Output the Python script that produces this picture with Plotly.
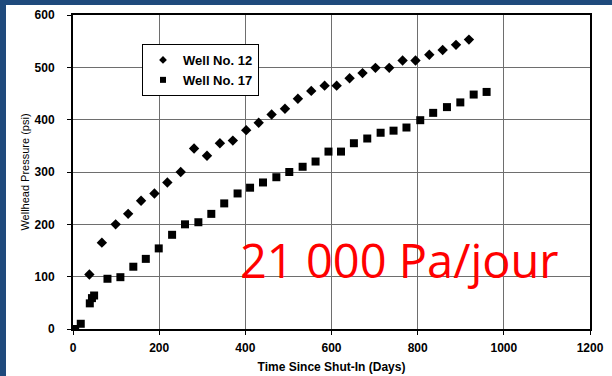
import plotly.graph_objects as go

# Well No. 12 (diamonds)
well12_days = [38, 67, 99, 128, 158, 189, 219, 250, 281, 311, 341, 371, 402, 431, 461, 492, 522, 553,
               584, 612, 642, 672, 702, 734, 765, 795, 827, 858, 889, 919]
well12_psi = [104, 165, 200, 220, 245, 259, 280, 300, 345, 331, 355, 360, 380, 394, 410, 421, 440, 455,
              465, 465, 479, 489, 499, 499, 513, 513, 524, 533, 543, 553]

# Well No. 17 (squares)
well17_days = [5, 18, 39, 44, 49, 80, 110, 140, 169, 199, 230, 260, 291, 321, 351, 382, 411, 441,
               472, 502, 533, 563, 593, 622, 652, 683, 714, 744, 774, 806, 836, 868, 899, 930, 960]
well17_psi = [0, 10, 49, 59, 64, 96, 99, 119, 134, 154, 180, 200, 204, 220, 240, 259, 270, 280,
              290, 300, 310, 320, 339, 339, 355, 364, 375, 379, 385, 399, 413, 424, 433, 448, 453]

x_ticks = [0, 200, 400, 600, 800, 1000, 1200]
y_ticks = [0, 100, 200, 300, 400, 500, 600]

W, H = 612, 376
L, R, T, B = 73, 22, 15, 47
pw, ph = W - L - R, H - T - B

def px_x(p):
    return (p - L) / pw

def px_y(p):
    return (H - B - p) / ph

fig = go.Figure()
fig.add_trace(go.Scatter(
    x=well12_days, y=well12_psi, mode="markers", name="Well No. 12", showlegend=False,
    marker=dict(symbol="diamond", size=8, color="black"),
))
fig.add_trace(go.Scatter(
    x=well17_days, y=well17_psi, mode="markers", name="Well No. 17", showlegend=False,
    marker=dict(symbol="square", size=8, color="black"),
))
# legend entries (smaller symbols, as in the reference legend)
fig.add_trace(go.Scatter(
    x=[None], y=[None], mode="markers", name="Well No. 12",
    marker=dict(symbol="diamond", size=6, color="black"),
))
fig.add_trace(go.Scatter(
    x=[None], y=[None], mode="markers", name="Well No. 17",
    marker=dict(symbol="square", size=6, color="black"),
))

fig.add_annotation(
    text="21 000 Pa/jour", x=px_x(238), y=px_y(260), xref="paper", yref="paper",
    xanchor="left", yanchor="middle", showarrow=False,
    font=dict(family="Open Sans", size=47, color="#FF0000"),
)

fig.add_shape(
    type="rect", xref="paper", yref="paper",
    x0=px_x(6), x1=px_x(W + 5), y0=px_y(H + 5), y1=px_y(5),
    fillcolor="white", line=dict(width=0), layer="below",
)

axis_common = dict(
    showline=True, linecolor="black", linewidth=2, mirror=True,
    showgrid=True, gridcolor="#6e6e6e", gridwidth=1, zeroline=False,
    ticks="outside", ticklen=4, tickcolor="black", automargin=False,
    tickfont=dict(family="Liberation Sans", size=12, color="black", weight="bold"),
)

fig.update_xaxes(
    range=[0, 1200], tickvals=x_ticks, ticklabelstandoff=3, **axis_common,
    title=dict(text="Time Since Shut-In (Days)", standoff=8,
               font=dict(family="Liberation Sans", size=12, color="black", weight="bold")),
)
fig.update_yaxes(
    range=[0, 600], tickvals=y_ticks, ticklabelstandoff=10, **axis_common,
    title=dict(text="Wellhead Pressure (psi)", standoff=3,
               font=dict(family="Liberation Sans", size=11, color="black")),
)

fig.update_layout(
    width=W, height=H,
    margin=dict(l=L, r=R, t=T, b=B),
    paper_bgcolor="#1f4a7c", plot_bgcolor="white",
    showlegend=True,
    legend=dict(
        x=px_x(142), y=px_y(44), xanchor="left", yanchor="top",
        bgcolor="white", bordercolor="black", borderwidth=1,
        font=dict(family="Liberation Sans", size=13, color="black", weight="bold"),
        itemsizing="trace", tracegroupgap=0, itemwidth=30,
    ),
)

fig.write_html("out.html", config={"displayModeBar": False},
               post_script="document.body.style.margin='0';")
